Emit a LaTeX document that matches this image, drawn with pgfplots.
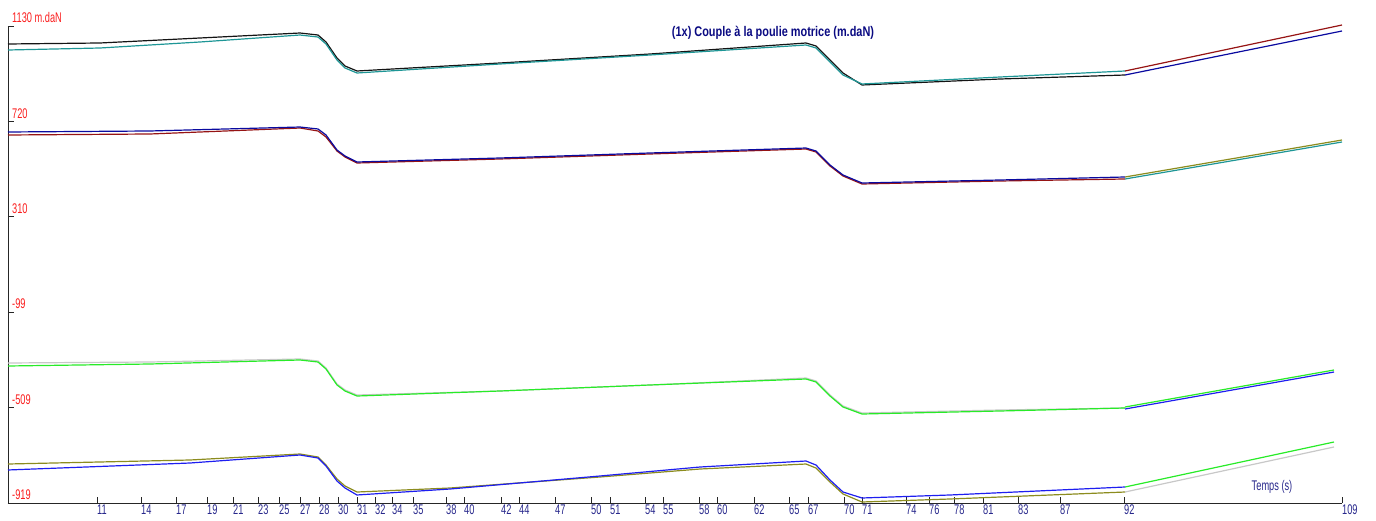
\documentclass[border=0pt]{standalone}
\usepackage{fontspec}
\usepackage{pgfplots}
\pgfplotsset{compat=1.18}
\newfontfamily\nar[FakeStretch=0.66]{Liberation Sans}
\newfontfamily\tit[FakeStretch=0.78]{Liberation Sans}
\definecolor{tealc}{RGB}{30,150,150}
\definecolor{maroonc}{RGB}{150,20,20}
\definecolor{navyc}{RGB}{10,10,160}
\definecolor{oliv}{RGB}{140,140,30}
\definecolor{grn}{RGB}{40,235,40}
\definecolor{gry}{RGB}{200,200,200}
\definecolor{blu}{RGB}{30,30,240}
\definecolor{blk}{RGB}{20,20,20}
\definecolor{lblx}{RGB}{40,40,140}
\definecolor{lbly}{RGB}{250,30,30}
\definecolor{titc}{RGB}{10,10,130}
\begin{document}
\begin{tikzpicture}
\begin{axis}[
  scale only axis, width=1334pt, height=477pt,
  xmin=8, xmax=1342, ymin=-919, ymax=1130,
  axis lines=left, axis line style={-, black!85},
  clip=false,
  tick align=inside, major tick length=6pt,
  tick style={black!85, line width=0.8pt},
  xtick={97,141,176,207,233,258,279,300,319,338,357,375,392,413,446,464,501,519,555,591,610,645,663,699,717,754,789,808,844,862,906,929,954,983,1018,1060,1124,1342},
  xticklabels={11,14,17,19,21,23,25,27,28,30,31,32,34,35,38,40,42,44,47,50,51,54,55,58,60,62,65,67,70,71,74,76,78,81,83,87,92,109},
  ytick={-919,-509,-99,310,720,1130},
  yticklabels={-919,-509,-99,310,720,1130 m.daN},
  xticklabel style={anchor=north west, inner sep=0pt, yshift=-2pt, font=\nar\fontsize{14pt}{16pt}\selectfont, text=lblx},
  yticklabel style={anchor=south west, inner sep=0pt, xshift=4pt, yshift=3pt, font=\nar\fontsize{14pt}{16pt}\selectfont, text=lbly},
  every axis plot/.append style={line width=1.2pt, line join=round},
]
% Group 1
\addplot[blk] coordinates {(8,1052.7)(100,1057.0)(200,1078.5)(300,1099.9)(318,1091.3)(326,1061.3)(337,992.5)(345,958.2)(357,936.7)(500,971.1)(650,1009.7)(806,1057.0)(816,1044.1)(830,983.9)(843,928.1)(862,876.6)(1000,902.3)(1125,919.5)};
\addplot[tealc] coordinates {(8,1026.9)(100,1035.5)(200,1061.3)(300,1091.3)(318,1082.7)(326,1052.7)(337,983.9)(345,949.6)(357,928.1)(500,966.8)(650,1005.4)(806,1048.4)(816,1035.5)(830,975.4)(843,919.5)(862,880.9)(1000,910.9)(1125,936.7)};
\addplot[maroonc] coordinates {(1125,936.7)(1342,1134.3)};
\addplot[navyc] coordinates {(1125,919.5)(1342,1108.5)};
% Group 2
\addplot[maroonc] coordinates {(8,661.8)(150,666.1)(300,691.8)(318,679.0)(326,653.2)(337,593.0)(345,567.3)(357,541.5)(500,558.7)(650,580.2)(806,601.6)(816,588.8)(830,528.6)(843,485.7)(862,451.3)(1000,464.2)(1125,472.8)};
\addplot[navyc] coordinates {(8,674.7)(150,679.0)(300,696.1)(318,687.6)(326,661.8)(337,597.3)(345,571.6)(357,545.8)(500,563.0)(650,584.5)(806,605.9)(816,593.0)(830,532.9)(843,490.0)(862,455.6)(1000,468.5)(1125,481.4)};
\addplot[oliv] coordinates {(1125,481.4)(1342,640.3)};
\addplot[tealc] coordinates {(1125,472.8)(1342,631.7)};
% Group 3
\addplot[gry] coordinates {(8,-317.6)(150,-313.3)(300,-300.4)(318,-309.0)(326,-339.1)(337,-407.8)(345,-433.6)(357,-455.1)(500,-437.9)(650,-412.1)(806,-382.1)(816,-394.9)(830,-455.1)(843,-502.3)(862,-532.4)(1000,-519.5)(1125,-510.9)};
\addplot[grn] coordinates {(8,-330.5)(150,-321.9)(300,-304.7)(318,-313.3)(326,-343.4)(337,-412.1)(345,-437.9)(357,-459.4)(500,-437.9)(650,-412.1)(806,-386.3)(816,-399.2)(830,-459.4)(843,-506.6)(862,-536.7)(1000,-523.8)(1125,-510.9)};
\addplot[blu] coordinates {(1125,-515.2)(1334,-356.3)};
\addplot[grn] coordinates {(1125,-506.6)(1334,-347.7)};
% Group 4
\addplot[oliv] coordinates {(8,-751.5)(190,-734.3)(300,-708.5)(318,-721.4)(326,-755.8)(337,-815.9)(345,-846.0)(357,-871.8)(450,-854.6)(600,-807.3)(700,-773.0)(806,-751.5)(816,-768.7)(830,-828.8)(843,-880.3)(862,-914.7)(950,-901.8)(1125,-871.8)};
\addplot[blu] coordinates {(8,-777.2)(190,-747.2)(300,-712.8)(318,-725.7)(326,-760.1)(337,-824.5)(345,-854.6)(357,-884.6)(450,-858.9)(600,-803.0)(700,-764.4)(806,-738.6)(816,-755.8)(830,-820.2)(843,-871.8)(862,-897.5)(950,-884.6)(1125,-850.3)};
\addplot[gry] coordinates {(1125,-871.8)(1334,-678.4)};
\addplot[grn] coordinates {(1125,-850.3)(1334,-657.0)};
\node[text=titc, font=\tit\bfseries\fontsize{14pt}{16pt}\selectfont] at (axis cs:773,1099.9) {(1x) Couple à la poulie motrice (m.daN)};
\node[text=lblx, font=\nar\fontsize{14pt}{16pt}\selectfont] at (axis cs:1272,-850.3) {Temps (s)};
\end{axis}
\pgfresetboundingbox
\path (-8pt,-17pt) rectangle (1368pt,503pt);
\end{tikzpicture}
\end{document}
